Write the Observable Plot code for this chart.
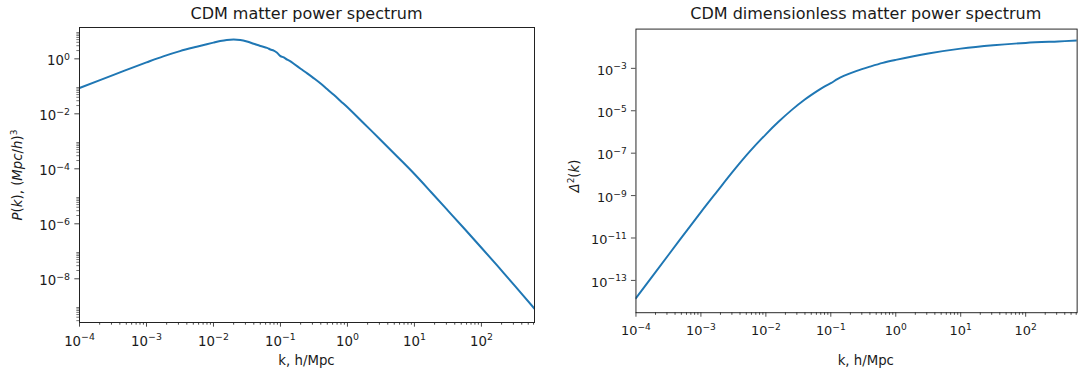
<!DOCTYPE html>
<html>
<head>
<meta charset="utf-8">
<script src="https://cdn.jsdelivr.net/npm/d3@7"></script>
<script src="https://cdn.jsdelivr.net/npm/@observablehq/plot@0.6"></script>
<style>
  html, body { margin: 0; padding: 0; background: #fff; }
  body { width: 1088px; height: 374px; overflow: hidden; position: relative; font-family: "DejaVu Sans", sans-serif; color: #1a1a1a; }
  .panel { position: absolute; top: 0; }
  .title { position: absolute; font-size: 16px; line-height: 16px; white-space: nowrap; transform: translateX(-50%); }
  .xlabel { position: absolute; font-size: 13.3px; line-height: 13.3px; white-space: nowrap; transform: translateX(-50%); }
  .ylabel { position: absolute; font-size: 13.3px; line-height: 16px; white-space: nowrap; transform: translate(-50%, -50%) rotate(-90deg); }
  .ylabel i { font-style: italic; }
</style>
</head>
<body>
<div id="left" class="panel" style="left:0px"></div>
<div id="right" class="panel" style="left:545px"></div>

<div class="title" style="left:306.5px; top:6px">CDM matter power spectrum</div>
<div class="title" style="left:865.8px; top:6px">CDM dimensionless matter power spectrum</div>
<div class="xlabel" style="left:306.5px; top:353.5px">k, h/Mpc</div>
<div class="xlabel" style="left:865.8px; top:353.5px">k, h/Mpc</div>
<div class="ylabel" style="left:16px; top:174.5px"><i>P</i>(<i>k</i>), (<i>Mpc</i>/<i>h</i>)<sup style="font-size:9px">3</sup></div>
<div class="ylabel" style="left:573px; top:175.5px"><i>Δ</i><sup style="font-size:9px">2</sup>(<i>k</i>)</div>

<script>
// ---- data ----
const leftK = [1.0e-4, 3.16e-4, 1.0e-3, 1.78e-3, 3.16e-3, 5.62e-3, 7.94e-3, 1.0e-2, 1.26e-2, 1.58e-2, 2.0e-2, 2.51e-2, 3.16e-2, 3.98e-2, 5.01e-2, 6.31e-2, 7.08e-2, 7.94e-2, 8.91e-2, 1.0e-1, 1.12e-1, 1.26e-1, 1.41e-1, 1.58e-1, 2.0e-1, 2.51e-1, 3.16e-1, 3.98e-1, 5.01e-1, 6.31e-1, 7.94e-1, 1.0, 1.78, 3.16, 5.62, 10, 17.8, 31.6, 56.2, 100, 178, 316, 617];
const leftP = [0.087, 0.257, 0.741, 1.23, 1.905, 2.75, 3.39, 3.89, 4.42, 4.84, 5.01, 4.84, 4.27, 3.55, 2.95, 2.51, 2.19, 2.0, 1.66, 1.26, 1.12, 0.933, 0.813, 0.661, 0.437, 0.295, 0.195, 0.126, 0.0776, 0.0479, 0.0288, 0.0174, 4.37e-3, 1.10e-3, 2.69e-4, 6.46e-5, 1.41e-5, 3.02e-6, 6.46e-7, 1.35e-7, 2.75e-8, 5.50e-9, 8.32e-10];

const rightK = [1.0e-4, 3.16e-4, 1.0e-3, 1.78e-3, 3.16e-3, 5.62e-3, 1.0e-2, 1.58e-2, 2.51e-2, 3.98e-2, 6.31e-2, 7.94e-2, 1.0e-1, 1.26e-1, 1.58e-1, 2.51e-1, 3.98e-1, 6.31e-1, 1.0, 3.16, 10, 31.6, 100, 316, 617];
const rightD = [1.45e-14, 1.58e-12, 1.66e-10, 1.58e-9, 1.45e-8, 1.17e-7, 7.76e-7, 3.09e-6, 1.10e-5, 3.39e-5, 8.91e-5, 1.38e-4, 2.00e-4, 3.09e-4, 4.37e-4, 7.59e-4, 1.20e-3, 1.82e-3, 2.51e-3, 5.01e-3, 8.51e-3, 1.23e-2, 1.58e-2, 1.86e-2, 2.04e-2];

const xTickExps = [-4, -3, -2, -1, 0, 1, 2];
const leftYTickExps = [0, -2, -4, -6, -8];
const rightYTickExps = [-3, -5, -7, -9, -11, -13];

const xDomain = [1e-4, 620];
const leftYDomain = [2.57e-10, 13.8];
const rightYDomain = [3.0e-15, 0.071];

// ---- helpers ----
const sup = {"-": "\u207B", "0": "\u2070", "1": "\u00B9", "2": "\u00B2", "3": "\u00B3", "4": "\u2074", "5": "\u2075", "6": "\u2076", "7": "\u2077", "8": "\u2078", "9": "\u2079"};
const unsup = Object.fromEntries(Object.entries(sup).map(([a, b]) => [b, a === "-" ? "\u2212" : a]));
const fmt = d => "10" + String(Math.round(Math.log10(d))).replace(/./g, c => sup[c]);
const pow = e => Math.pow(10, e);
function minorTicks(exps, domain) {
  const out = [];
  for (const e of exps) for (let s = 2; s <= 9; s++) {
    const v = s * pow(e);
    if (v > domain[0] && v < domain[1]) out.push(v);
  }
  return out;
}
const xMinor = minorTicks(d3.range(-5, 4), xDomain);
const leftYMinor = minorTicks([-10, -8, -6, -4, -2, 0], leftYDomain);

const BLUE = "#1f77b4";
const MAJ = 4.67, MIN = 2.67;

// turn "10⁻⁴" labels into "10" + raised smaller exponent (as matplotlib mathtext)
function raiseExponents(svg) {
  const NS = "http://www.w3.org/2000/svg";
  svg.querySelectorAll("text").forEach(t => {
    const s = t.textContent;
    if (!/^10[\u207B\u2070\u00B9\u00B2\u00B3\u2074-\u2079]+$/.test(s)) return;
    const exp = [...s.slice(2)].map(c => unsup[c]).join("");
    while (t.firstChild) t.removeChild(t.firstChild);
    t.appendChild(document.createTextNode("10"));
    const ts = document.createElementNS(NS, "tspan");
    ts.setAttribute("dy", "-5.5");
    ts.setAttribute("font-size", "9.4px");
    ts.textContent = exp;
    t.appendChild(ts);
  });
  return svg;
}

function panel({width, ml, mr, mt, mb, yDomain, yMajor, yMinor, k, v}) {
  const data = k.map((kk, i) => ({k: kk, v: v[i]}));
  const marks = [
    Plot.line(data, {x: "k", y: "v", stroke: BLUE, strokeWidth: 2, curve: "catmull-rom", clip: true}),
    Plot.axisX({ticks: xMinor, tickSize: MIN, tickFormat: () => "", label: null, strokeWidth: 0.8}),
    Plot.axisX({ticks: xTickExps.map(pow), tickSize: MAJ, tickFormat: () => "", label: null, strokeWidth: 0.8}),
    Plot.axisX({ticks: xTickExps.map(pow), tickSize: 0, tickPadding: 14, tickFormat: fmt, label: null, fontSize: 13.3}),
    Plot.axisY({ticks: yMajor.map(pow), tickSize: MAJ, tickFormat: () => "", label: null, strokeWidth: 0.8}),
    Plot.axisY({ticks: yMajor.map(pow), tickSize: 0, tickPadding: 9.5, tickFormat: fmt, label: null, fontSize: 13.3, dy: 2.2}),
    Plot.frame({stroke: "#222", strokeWidth: 1})
  ];
  if (yMinor.length) marks.splice(4, 0, Plot.axisY({ticks: yMinor, tickSize: MIN, tickFormat: () => "", label: null, strokeWidth: 0.6}));
  return raiseExponents(Plot.plot({
    width, height: 374,
    marginLeft: ml, marginRight: mr, marginTop: mt, marginBottom: mb,
    style: {fontFamily: "DejaVu Sans", fontSize: "13.3px", color: "#1a1a1a", background: "transparent", overflow: "visible"},
    x: {type: "log", domain: xDomain},
    y: {type: "log", domain: yDomain},
    marks
  }));
}

document.getElementById("left").appendChild(panel({
  width: 545, ml: 79, mr: 11, mt: 27, mb: 52,
  yDomain: leftYDomain, yMajor: leftYTickExps, yMinor: leftYMinor, k: leftK, v: leftP
}));
document.getElementById("right").appendChild(panel({
  width: 560, ml: 93.3, mr: 11.7, mt: 29.5, mb: 52,
  yDomain: rightYDomain, yMajor: rightYTickExps, yMinor: [], k: rightK, v: rightD
}));
</script>
</body>
</html>
